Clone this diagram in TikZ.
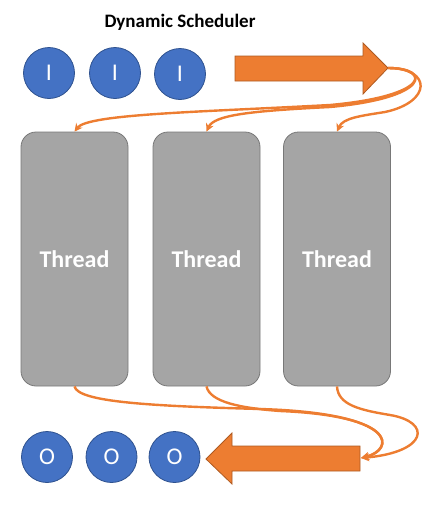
\documentclass[tikz,border=0pt]{standalone}
\usepackage{fontspec}
\setmainfont{Carlito}
\usetikzlibrary{arrows.meta}
\definecolor{cblue}{HTML}{4472C4}
\definecolor{cblueb}{HTML}{2F528F}
\definecolor{corange}{HTML}{ED7D31}
\definecolor{corangeb}{HTML}{AE5A21}
\definecolor{cgray}{HTML}{A5A5A5}
\definecolor{cgrayb}{HTML}{787878}
\tikzset{
  ball/.style={circle, fill=cblue, draw=cblueb, line width=0.8pt, minimum size=51pt, inner sep=0pt, text=white, font=\fontsize{24}{28}\selectfont},
  thread/.style={rectangle, rounded corners=15pt, fill=cgray, draw=cgrayb, line width=0.8pt, minimum width=107pt, minimum height=254pt, text=white, font=\bfseries\fontsize{24}{28}\selectfont},
  bigarrow/.style={fill=corange, draw=corangeb, line width=0.8pt},
  flow/.style={draw=corange, line width=2.4pt, -{Stealth[length=8pt,width=8pt]}},
}
\begin{document}
\begin{tikzpicture}[x=1pt,y=-1pt]
\useasboundingbox (0,0) rectangle (433,512);
\node[font=\bfseries\fontsize{19}{23}\selectfont] (title) at (180,22) {Dynamic Scheduler};
\node[ball] (i1) at (49,73) {I};
\node[ball] (i2) at (115,73) {I};
\node[ball] (i3) at (180,74) {I};
\node[ball] (o1) at (47,457) {O};
\node[ball] (o2) at (111.5,457) {O};
\node[ball] (o3) at (174.5,457) {O};
\node[thread] (t1) at (74.5,259) {Thread};
\node[thread] (t2) at (206.5,259) {Thread};
\node[thread] (t3) at (337,259) {Thread};
% big right arrow
\draw[bigarrow] (235,56) -- (363,56) -- (363,43) -- (388,68) -- (363,94) -- (363,81) -- (235,81) -- cycle;
\coordinate (rtip) at (388,68);
% big left arrow
\draw[bigarrow] (360,446) -- (232,446) -- (232,433) -- (206,459) -- (232,484) -- (232,471) -- (360,471) -- cycle;
\coordinate (lend) at (361,458);
% top curves
\draw[flow] (rtip) .. controls (432,68) and (430,96) .. (330,105) .. controls (200,112) and (88,114) .. (t1.north);
\draw[flow] (rtip) .. controls (432,68) and (430,98) .. (330,107) .. controls (250,111) and (214,115) .. (t2.north);
\draw[flow] (rtip) .. controls (432,68) and (432,102) .. (385,112) .. controls (360,116) and (343,118) .. (t3.north);
% bottom curves
\draw[flow] (t1.south) .. controls (78,402) and (150,406) .. (260,409) .. controls (400,413) and (395,450) .. (lend);
\draw[flow] (t2.south) .. controls (210,402) and (240,408) .. (280,411) .. controls (400,416) and (393,450) .. (lend);
\draw[flow] (t3.south) .. controls (338,405) and (360,410) .. (390,415) .. controls (432,422) and (428,452) .. (lend);
\end{tikzpicture}
\end{document}
